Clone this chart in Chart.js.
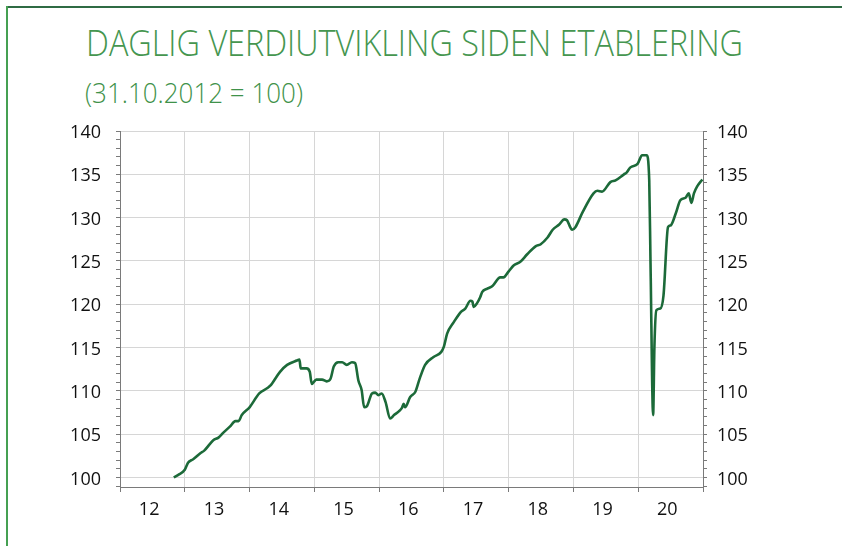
<!DOCTYPE html>
<html>
<head>
<meta charset="utf-8">
<script src="https://cdn.jsdelivr.net/npm/chart.js@4"></script>
<style>
  html, body { margin: 0; padding: 0; background: #fff; }
  #wrap { position: relative; width: 842px; height: 546px; overflow: hidden; }
  #chart { position: absolute; left: 0; top: 0; }
  .frame-top { position: absolute; left: 6px; top: 6px; width: 836px; height: 2px; background: #2f6b44; }
  .frame-left { position: absolute; left: 6px; top: 6px; width: 1.5px; height: 540px; background: #45a052; }
  .title, .subtitle {
    position: absolute; left: 86px; margin: 0; white-space: nowrap;
    font-family: "Open Sans", sans-serif; font-weight: 300; line-height: 1;
    color: #45964f; transform-origin: 0 0;
  }
  .title { top: 25px; font-size: 36px; }
  .subtitle { top: 78px; left: 85px; font-size: 28px; color: #3f924a; }
</style>
</head>
<body>
<div id="wrap">
  <div class="frame-top"></div>
  <div class="frame-left"></div>
  <div class="title" id="title" data-w="657">DAGLIG VERDIUTVIKLING SIDEN ETABLERING</div>
  <div class="subtitle" id="subtitle" data-w="218">(31.10.2012 = 100)</div>
  <canvas id="chart" width="842" height="546"></canvas>
</div>
<script>
// dates as decimal years, index 31.10.2012 = 100
const dates = [
  2012.83, 2012.90, 2013.00, 2013.05, 2013.13, 2013.24, 2013.30, 2013.44, 2013.52, 2013.60,
  2013.70, 2013.78, 2013.83, 2013.88, 2014.00, 2014.15, 2014.27, 2014.32, 2014.47, 2014.58,
  2014.73, 2014.77, 2014.79, 2014.88, 2014.93, 2014.96, 2015.03, 2015.12, 2015.19, 2015.25,
  2015.30, 2015.37, 2015.43, 2015.50, 2015.58, 2015.63, 2015.68, 2015.73, 2015.77, 2015.81,
  2015.89, 2015.94, 2015.99, 2016.04, 2016.10, 2016.17, 2016.23, 2016.30, 2016.35, 2016.38,
  2016.40, 2016.48, 2016.56, 2016.63, 2016.71, 2016.84, 2016.96, 2017.00, 2017.05, 2017.15,
  2017.26, 2017.33, 2017.41, 2017.44, 2017.46, 2017.51, 2017.56, 2017.59, 2017.67, 2017.75,
  2017.87, 2017.92, 2018.00, 2018.08, 2018.18, 2018.29, 2018.42, 2018.49, 2018.60, 2018.68,
  2018.78, 2018.86, 2018.90, 2018.95, 2018.98, 2019.03, 2019.14, 2019.31, 2019.37, 2019.44,
  2019.57, 2019.65, 2019.78, 2019.82, 2019.88, 2019.99, 2020.06, 2020.13, 2020.17, 2020.19,
  2020.23, 2020.25, 2020.28, 2020.34, 2020.39, 2020.46, 2020.50, 2020.58, 2020.65, 2020.73,
  2020.78, 2020.82, 2020.86, 2020.91, 2020.99
];
const values = [
  100.0, 100.3, 100.9, 101.7, 102.1, 102.8, 103.1, 104.3, 104.6, 105.2,
  105.9, 106.5, 106.5, 107.2, 108.1, 109.7, 110.3, 110.6, 112.2, 113.0,
  113.5, 113.6, 112.6, 112.6, 112.2, 110.8, 111.3, 111.3, 111.1, 111.4,
  112.8, 113.3, 113.3, 113.0, 113.3, 113.2, 111.2, 110.1, 108.1, 108.2,
  109.7, 109.8, 109.5, 109.7, 108.7, 106.8, 107.2, 107.6, 108.0, 108.5,
  108.1, 109.3, 109.9, 111.5, 113.0, 113.9, 114.5, 115.1, 116.6, 117.9,
  119.1, 119.5, 120.4, 120.3, 119.7, 120.1, 120.8, 121.4, 121.8, 122.1,
  123.1, 123.1, 123.8, 124.5, 124.9, 125.8, 126.7, 126.9, 127.7, 128.6,
  129.2, 129.8, 129.7, 128.9, 128.6, 128.9, 130.6, 132.8, 133.1, 133.0,
  134.1, 134.3, 135.0, 135.2, 135.8, 136.2, 137.2, 137.2, 134.3, 124.7,
  107.2, 115.1, 119.3, 119.5, 121.0, 128.9, 129.1, 130.5, 132.0, 132.3,
  132.8, 131.7, 132.8, 133.6, 134.4
];
const yearStarts = [2012, 2013, 2014, 2015, 2016, 2017, 2018, 2019, 2020, 2021];
const yearLabels = ['12', '13', '14', '15', '16', '17', '18', '19', '20'];
const yTickValues = [100, 105, 110, 115, 120, 125, 130, 135, 140];

// squeeze the headings to the condensed width of the original
document.querySelectorAll('.title, .subtitle').forEach(el => {
  const w = el.getBoundingClientRect().width;
  el.style.transform = 'scaleX(' + (Number(el.dataset.w) / w) + ')';
});

const gridGray = '#d6d6d6';
const axisGray = '#7a7a7a';
const clear = 'rgba(0,0,0,0)';
const labelOffset = 0.45;

function yearTicks(scale) {
  const ticks = [];
  yearStarts.forEach((y, i) => {
    ticks.push({ value: y });
    if (i < yearLabels.length) ticks.push({ value: y + labelOffset });
  });
  scale.ticks = ticks;
}

function valueTicks(scale) {
  const ticks = [];
  for (let v = 99; v <= 140; v++) ticks.push({ value: v });
  scale.ticks = ticks;
}

function isMajor(v) {
  return yTickValues.includes(v);
}

const tickFont = { family: '"Open Sans", sans-serif', size: 18 };

const ctx = document.getElementById('chart').getContext('2d');
new Chart(ctx, {
  type: 'line',
  data: {
    datasets: [{
      data: dates.map((d, i) => ({ x: d, y: values[i] })),
      borderColor: '#1c6a39',
      borderWidth: 2.6,
      pointRadius: 0,
      cubicInterpolationMode: 'monotone',
      fill: false
    }]
  },
  options: {
    responsive: false,
    animation: false,
    layout: { padding: { top: 131, left: 0, right: 0, bottom: 0 } },
    plugins: { legend: { display: false }, tooltip: { enabled: false } },
    scales: {
      x: {
        type: 'linear',
        min: 2012,
        max: 2021,
        afterBuildTicks: yearTicks,
        afterFit: s => { s.height = 59; },
        border: { color: axisGray, width: 1 },
        grid: {
          color: c => Number.isInteger(c.tick.value) ? gridGray : clear,
          tickColor: c => Number.isInteger(c.tick.value) ? axisGray : clear,
          tickLength: 5,
          lineWidth: 1
        },
        ticks: {
          autoSkip: false,
          maxRotation: 0,
          padding: 7,
          color: '#111',
          font: tickFont,
          callback: v => Number.isInteger(v) ? '' : yearLabels[Math.floor(v) - 2012]
        }
      },
      y: {
        position: 'left',
        min: 98.9,
        max: 140,
        afterBuildTicks: valueTicks,
        afterFit: s => { s.width = 120; },
        border: { color: axisGray, width: 1 },
        grid: {
          color: c => isMajor(c.tick.value) ? gridGray : clear,
          tickColor: axisGray,
          tickLength: 4
        },
        ticks: {
          autoSkip: false,
          padding: 15,
          labelOffset: 2,
          color: '#111',
          font: tickFont,
          callback: v => isMajor(v) ? String(v) : ''
        }
      },
      y2: {
        position: 'right',
        min: 98.9,
        max: 140,
        afterBuildTicks: valueTicks,
        afterFit: s => { s.width = 139; },
        border: { color: axisGray, width: 1 },
        grid: {
          drawOnChartArea: false,
          tickColor: axisGray,
          tickLength: 4
        },
        ticks: {
          autoSkip: false,
          padding: 10,
          labelOffset: 2,
          color: '#111',
          font: tickFont,
          callback: v => isMajor(v) ? String(v) : ''
        }
      }
    }
  }
});
</script>
</body>
</html>
